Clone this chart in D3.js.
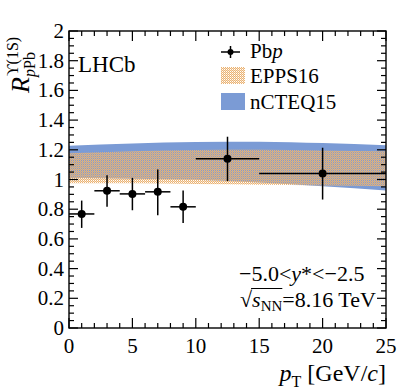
<!DOCTYPE html>
<html lang="en">
<head>
  <meta charset="utf-8">
  <script src="https://d3js.org/d3.v7.min.js"></script>
  <style>
    body { margin: 0; background: white; }
    svg text { font-family: "Liberation Serif", "DejaVu Serif", serif; fill: #000; }
    .frame { fill: none; stroke: #000; stroke-width: 1.4px; }
    .tick-line { stroke: #000; stroke-width: 1.2px; }
  </style>
</head>
<body>
<div id="chart"></div>
<script>
  // LHCb Upsilon(1S) R_pPb, backward rapidity
  var ptCenter = [1, 3, 5, 7, 9, 12.5, 20];
  var ptLow    = [0, 2, 4, 6, 8, 10, 15];
  var ptHigh   = [2, 4, 6, 8, 10, 15, 25];
  var rpPb     = [0.768, 0.924, 0.903, 0.917, 0.816, 1.14, 1.04];
  var errUp    = [0.09, 0.105, 0.108, 0.151, 0.11, 0.148, 0.174];
  var errDown  = [0.094, 0.108, 0.11, 0.158, 0.109, 0.151, 0.175];

  // model bands
  var bandPt        = [0, 5, 10, 15, 20, 25];
  var nCTEQ15Upper  = [1.228, 1.243, 1.252, 1.255, 1.246, 1.231];
  var nCTEQ15Lower  = [1.01, 1.005, 0.998, 0.98, 0.955, 0.926];
  var EPPS16Upper   = [1.176, 1.19, 1.198, 1.2, 1.196, 1.19];
  var EPPS16Lower   = [0.975, 0.974, 0.97, 0.965, 0.96, 0.955];

  var xTicks = [0, 5, 10, 15, 20, 25];
  var yTicks = [0, 0.2, 0.4, 0.6, 0.8, 1, 1.2, 1.4, 1.6, 1.8, 2];

  var W = 407, H = 391;
  var margin = {top: 31, right: 21, bottom: 63, left: 69};
  var width = W - margin.left - margin.right,
      height = H - margin.top - margin.bottom;

  var svg = d3.select("#chart").append("svg")
          .attr("width", W)
          .attr("height", H);

  var defs = svg.append("defs");
  var pat = defs.append("pattern")
          .attr("id", "epps")
          .attr("patternUnits", "userSpaceOnUse")
          .attr("width", 2)
          .attr("height", 2);
  pat.append("rect").attr("x", 0).attr("y", 0).attr("width", 1).attr("height", 1).attr("fill", "#ebb373");
  pat.append("rect").attr("x", 1).attr("y", 1).attr("width", 1).attr("height", 1).attr("fill", "#ebb373");
  pat.append("rect").attr("x", 1).attr("y", 0).attr("width", 1).attr("height", 1).attr("fill", "#ebb373").attr("fill-opacity", 0.45);

  var g = svg.append("g")
          .attr("transform", "translate(" + margin.left + "," + margin.top + ")");

  var x = d3.scaleLinear().domain([0, 25]).range([0, width]);
  var y = d3.scaleLinear().domain([0, 2]).range([height, 0]);

  // bands
  var blueData = bandPt.map(function (p, i) { return {pt: p, lo: nCTEQ15Lower[i], hi: nCTEQ15Upper[i]}; });
  var orangeData = bandPt.map(function (p, i) { return {pt: p, lo: EPPS16Lower[i], hi: EPPS16Upper[i]}; });

  var area = d3.area()
          .curve(d3.curveMonotoneX)
          .x(function (d) { return x(d.pt); })
          .y0(function (d) { return y(d.lo); })
          .y1(function (d) { return y(d.hi); });

  g.append("path").datum(blueData).attr("d", area).attr("fill", "#7b9bd5");
  g.append("path").datum(orangeData).attr("d", area).attr("fill", "url(#epps)");

  // axes ticks (inward, all four sides)
  var xMinor = d3.range(0, 25.01, 1);
  var yMinor = d3.range(0, 2.001, 0.05);

  function isMajorX(v) { return Math.abs(v / 5 - Math.round(v / 5)) < 1e-6; }
  function isMajorY(v) { return Math.abs(v / 0.2 - Math.round(v / 0.2)) < 1e-6; }

  var tg = g.append("g");
  xMinor.forEach(function (v) {
    var len = isMajorX(v) ? 10 : 5;
    tg.append("line").attr("class", "tick-line")
            .attr("x1", x(v)).attr("x2", x(v)).attr("y1", height).attr("y2", height - len);
    tg.append("line").attr("class", "tick-line")
            .attr("x1", x(v)).attr("x2", x(v)).attr("y1", 0).attr("y2", len);
  });
  yMinor.forEach(function (v) {
    var len = isMajorY(v) ? 9 : 5;
    tg.append("line").attr("class", "tick-line")
            .attr("x1", 0).attr("x2", len).attr("y1", y(v)).attr("y2", y(v));
    tg.append("line").attr("class", "tick-line")
            .attr("x1", width).attr("x2", width - len).attr("y1", y(v)).attr("y2", y(v));
  });

  g.append("rect").attr("class", "frame").attr("x", 0).attr("y", 0)
          .attr("width", width).attr("height", height);

  // tick labels
  g.selectAll(".xlab").data(xTicks).enter().append("text")
          .attr("class", "xlab")
          .attr("x", function (d) { return x(d); })
          .attr("y", height + 25)
          .attr("text-anchor", "middle")
          .style("font-size", "21px")
          .text(function (d) { return d; });

  g.selectAll(".ylab").data(yTicks).enter().append("text")
          .attr("class", "ylab")
          .attr("x", -5)
          .attr("y", function (d) { return y(d) + 7; })
          .attr("text-anchor", "end")
          .style("font-size", "21px")
          .text(function (d) { return d; });

  // data points
  var pts = g.append("g");
  ptCenter.forEach(function (c, i) {
    pts.append("line").attr("stroke", "#000").attr("stroke-width", 1.5)
            .attr("x1", x(ptLow[i])).attr("x2", x(ptHigh[i]))
            .attr("y1", y(rpPb[i])).attr("y2", y(rpPb[i]));
    pts.append("line").attr("stroke", "#000").attr("stroke-width", 1.5)
            .attr("x1", x(c)).attr("x2", x(c))
            .attr("y1", y(rpPb[i] + errUp[i])).attr("y2", y(rpPb[i] - errDown[i]));
    pts.append("circle").attr("cx", x(c)).attr("cy", y(rpPb[i])).attr("r", 4).attr("fill", "#000");
  });

  // LHCb label
  g.append("text").attr("x", 9).attr("y", 41).style("font-size", "23px").text("LHCb");

  // legend
  var lg = svg.append("g");
  lg.append("line").attr("stroke", "#000").attr("stroke-width", 1.5)
          .attr("x1", 221).attr("x2", 240).attr("y1", 52).attr("y2", 52);
  lg.append("line").attr("stroke", "#000").attr("stroke-width", 1.5)
          .attr("x1", 230.5).attr("x2", 230.5).attr("y1", 46).attr("y2", 58);
  lg.append("circle").attr("cx", 230.5).attr("cy", 52).attr("r", 3).attr("fill", "#000");
  var t1 = lg.append("text").attr("x", 250).attr("y", 58).style("font-size", "21px");
  t1.append("tspan").text("Pb");
  t1.append("tspan").style("font-style", "italic").text("p");

  lg.append("rect").attr("x", 221).attr("y", 67).attr("width", 24).attr("height", 17).attr("fill", "url(#epps)");
  lg.append("text").attr("x", 250).attr("y", 83).style("font-size", "21px").text("EPPS16");
  lg.append("rect").attr("x", 221).attr("y", 93).attr("width", 24).attr("height", 17).attr("fill", "#7b9bd5");
  lg.append("text").attr("x", 250).attr("y", 109).style("font-size", "21px").text("nCTEQ15");

  // annotations
  var a1 = svg.append("text").attr("x", 239).attr("y", 281).style("font-size", "22px");
  a1.append("tspan").text("\u22125.0<");
  a1.append("tspan").style("font-style", "italic").text("y");
  a1.append("tspan").text("*<\u22122.5");

  var a2 = svg.append("text").attr("x", 240).attr("y", 307).style("font-size", "22px");
  a2.append("tspan").text("\u221A");
  a2.append("tspan").style("font-style", "italic").text("s");
  a2.append("tspan").attr("dy", 4).style("font-size", "15px").text("NN");
  a2.append("tspan").attr("dy", -4).text("=8.16 TeV");
  var n = a2.node();
  var e0 = n.getExtentOfChar(0);
  var e3 = n.getExtentOfChar(3);
  svg.append("line").attr("stroke", "#000").attr("stroke-width", 1)
          .attr("x1", e0.x + e0.width - 1).attr("x2", e3.x + e3.width)
          .attr("y1", e0.y + 1.5).attr("y2", e0.y + 1.5);

  // x title
  var xt = svg.append("text").attr("x", 386).attr("y", 381).attr("text-anchor", "end").style("font-size", "24px");
  xt.append("tspan").style("font-style", "italic").text("p");
  xt.append("tspan").attr("dy", 6).style("font-size", "16px").text("T");
  xt.append("tspan").attr("dy", -6).text(" [GeV/");
  xt.append("tspan").style("font-style", "italic").text("c");
  xt.append("tspan").text("]");

  // y title
  var yt = svg.append("g").attr("transform", "translate(29,0) rotate(-90)");
  yt.append("text").attr("x", -93).attr("y", 0).style("font-size", "26px").style("font-style", "italic").text("R");
  var sup = yt.append("text").attr("x", -76).attr("y", -11).style("font-size", "16px");
  sup.append("tspan").text("\u03D2(1S)");
  var sub = yt.append("text").attr("x", -77).attr("y", 6).style("font-size", "16px");
  sub.append("tspan").style("font-style", "italic").text("p");
  sub.append("tspan").text("Pb");
</script>
</body>
</html>
